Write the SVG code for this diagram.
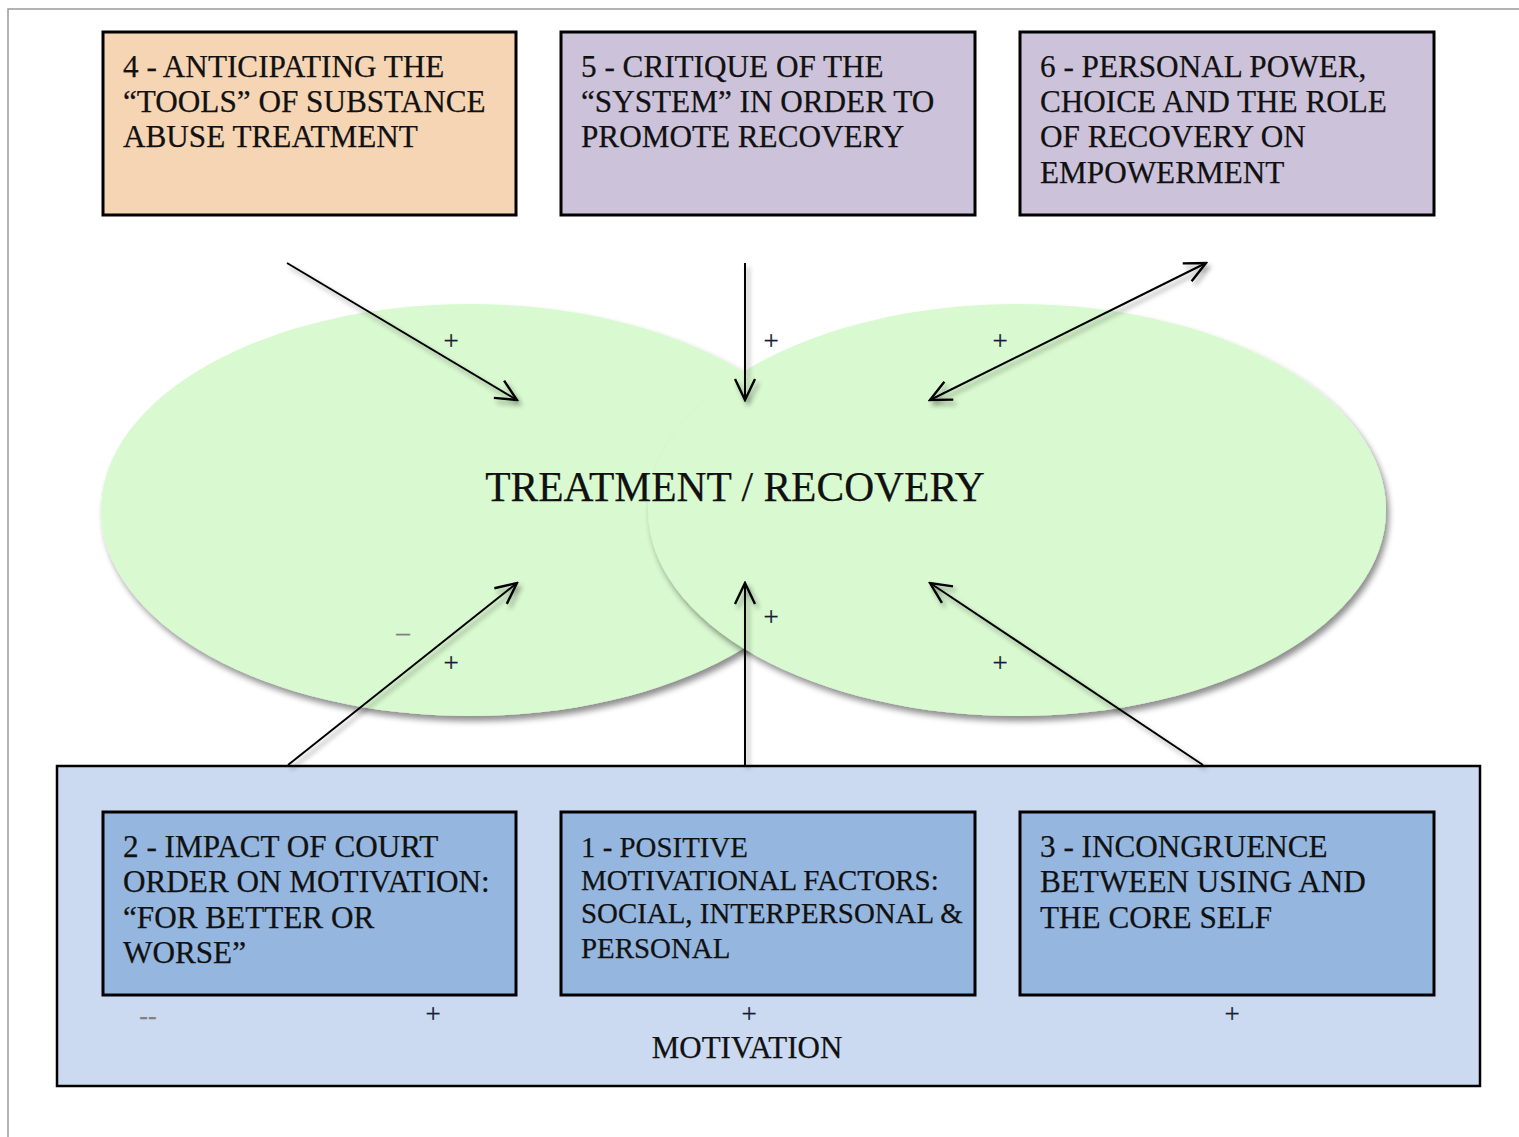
<svg xmlns="http://www.w3.org/2000/svg" width="1519" height="1137" viewBox="0 0 1519 1137">
  <defs>
    <filter id="softShadow" x="-10%" y="-10%" width="125%" height="130%">
      <feGaussianBlur in="SourceAlpha" stdDeviation="3"/>
      <feOffset dx="3" dy="5" result="b"/>
      <feComponentTransfer><feFuncA type="linear" slope="0.45"/></feComponentTransfer>
      <feMerge><feMergeNode/><feMergeNode in="SourceGraphic"/></feMerge>
    </filter>
    <filter id="lineShadow" x="-20%" y="-20%" width="140%" height="140%">
      <feGaussianBlur in="SourceAlpha" stdDeviation="2.5"/>
      <feOffset dx="3" dy="4" result="b"/>
      <feComponentTransfer><feFuncA type="linear" slope="0.4"/></feComponentTransfer>
      <feMerge><feMergeNode/><feMergeNode in="SourceGraphic"/></feMerge>
    </filter>
    <marker id="openBig" viewBox="0 0 24 24" refX="22" refY="12" markerWidth="24" markerHeight="24" markerUnits="userSpaceOnUse" orient="auto-start-reverse">
      <path d="M1,2 L22,12 L1,22" fill="none" stroke="#000" stroke-width="2.4"/>
    </marker>
  </defs>
  <style>
    .frame { fill: none; stroke: #9a9a9a; stroke-width: 1.5; }
    .box { stroke: #000; stroke-width: 3; }
    .peach { fill: #f6d5b5; }
    .lilac { fill: #ccc3db; }
    .outer { fill: #cbdaf0; stroke: #000; stroke-width: 2.5; }
    .blue { fill: #95b6df; }
    .lens { fill: #d9f9d0; }
    .t { font-family: "Liberation Serif", "Times New Roman", serif; fill: #111; stroke: #111; stroke-width: 0.25; }
    .bx { font-size: 31.2px; }
    .bx28 { font-size: 28.9px; }
    .center { font-size: 41.5px; text-anchor: middle; }
    .sign { font-size: 27px; text-anchor: middle; fill: #1a1a3a; }
    .minus { fill: #808080; stroke: #808080; }
    .conn line { stroke: #000; stroke-width: 2; fill: none; marker-end: url(#openBig); }
  </style>

  <rect width="1519" height="1137" fill="#fff"/>
  <path class="frame" d="M8,1137 L8,9 L1519,9"/>

  <!-- Motivation container -->
  <g id="motivation">
    <rect class="outer" x="57" y="766" width="1423" height="320"/>
    <text class="t" x="747" y="1058" text-anchor="middle" style="font-size:31px">MOTIVATION</text>
    <text class="t sign minus" x="148" y="1024" style="font-size:26px">--</text>
    <text class="t sign" x="433" y="1023">+</text>
    <text class="t sign" x="749" y="1023">+</text>
    <text class="t sign" x="1232" y="1023">+</text>
  </g>

  <!-- Central overlapping ellipses -->
  <g id="treatment-recovery">
    <ellipse class="lens" cx="470" cy="510" rx="369" ry="206" filter="url(#softShadow)"/>
    <ellipse class="lens" cx="1017" cy="510" rx="369" ry="206" filter="url(#softShadow)"/>
    <text class="t center" x="735" y="501">TREATMENT / RECOVERY</text>
  </g>

  <g id="node4">
    <rect class="box peach" x="103" y="32" width="413" height="183"/>
    <text class="t bx" x="123" y="77">4 - ANTICIPATING THE</text>
    <text class="t bx" x="123" y="112">“TOOLS” OF SUBSTANCE</text>
    <text class="t bx" x="123" y="147">ABUSE TREATMENT</text>
  </g>

  <g id="node5">
    <rect class="box lilac" x="561" y="32" width="414" height="183"/>
    <text class="t bx" x="581" y="77">5 - CRITIQUE OF THE</text>
    <text class="t bx" x="581" y="112">“SYSTEM” IN ORDER TO</text>
    <text class="t bx" x="581" y="147">PROMOTE RECOVERY</text>
  </g>

  <g id="node6">
    <rect class="box lilac" x="1020" y="32" width="414" height="183"/>
    <text class="t bx" x="1040" y="77">6 - PERSONAL POWER,</text>
    <text class="t bx" x="1040" y="112">CHOICE AND THE ROLE</text>
    <text class="t bx" x="1040" y="147">OF RECOVERY ON</text>
    <text class="t bx" x="1040" y="183">EMPOWERMENT</text>
  </g>

  <g id="node2">
    <rect class="box blue" x="103" y="812" width="413" height="183"/>
    <text class="t bx" x="123" y="857">2 - IMPACT OF COURT</text>
    <text class="t bx" x="123" y="892">ORDER ON MOTIVATION:</text>
    <text class="t bx" x="123" y="928">“FOR BETTER OR</text>
    <text class="t bx" x="123" y="963">WORSE”</text>
  </g>

  <g id="node1">
    <rect class="box blue" x="561" y="812" width="414" height="183"/>
    <text class="t bx28" x="581" y="857">1 - POSITIVE</text>
    <text class="t bx28" x="581" y="890">MOTIVATIONAL FACTORS:</text>
    <text class="t bx28" x="581" y="923">SOCIAL, INTERPERSONAL &amp;</text>
    <text class="t bx28" x="581" y="958">PERSONAL</text>
  </g>

  <g id="node3">
    <rect class="box blue" x="1020" y="812" width="414" height="183"/>
    <text class="t bx" x="1040" y="857">3 - INCONGRUENCE</text>
    <text class="t bx" x="1040" y="892">BETWEEN USING AND</text>
    <text class="t bx" x="1040" y="928">THE CORE SELF</text>
  </g>

  <!-- Influence arrows -->
  <g id="connectors" class="conn" filter="url(#lineShadow)">
    <line x1="287" y1="263" x2="517" y2="400"/>
    <line x1="745" y1="263" x2="745" y2="400"/>
    <line x1="930" y1="400" x2="1206" y2="263" style="marker-start:url(#openBig)"/>
    <line x1="288" y1="765" x2="517" y2="583"/>
    <line x1="745" y1="765" x2="745" y2="583"/>
    <line x1="1203" y1="765" x2="930" y2="583"/>
  </g>

  <!-- Arrow polarity labels -->
  <g id="signs">
    <text class="t sign" x="451" y="350">+</text>
    <text class="t sign" x="771" y="350">+</text>
    <text class="t sign" x="1000" y="350">+</text>
    <text class="t sign minus" x="403" y="641">–</text>
    <text class="t sign" x="451" y="672">+</text>
    <text class="t sign" x="771" y="626">+</text>
    <text class="t sign" x="1000" y="672">+</text>
  </g>
</svg>
